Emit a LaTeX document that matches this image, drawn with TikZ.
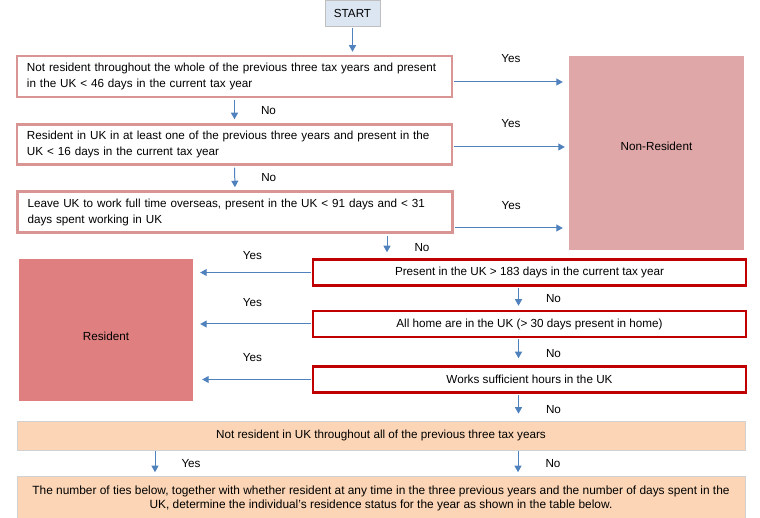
\documentclass[tikz,border=0pt]{standalone}
\usepackage{fontspec}
\setmainfont{Liberation Sans}
\usetikzlibrary{arrows.meta}
\definecolor{flowblue}{HTML}{4F81BD}
\definecolor{testpink}{HTML}{D99594}
\definecolor{testred}{HTML}{C00000}
\definecolor{nonresfill}{HTML}{DFA7A7}
\definecolor{resfill}{HTML}{DF7F7F}
\definecolor{peach}{HTML}{FBD5B5}
\definecolor{startfill}{HTML}{DCE6F2}
\begin{document}
\begin{tikzpicture}[x=1pt, y=-1pt,
  font=\fontsize{11.7}{16}\selectfont,
  every node/.style={inner sep=0pt},
  flow/.style={draw=flowblue, line width=1pt, -{Triangle[length=6.5pt,width=7pt]}},
  pinkbox/.style={draw=testpink, line width=2.5pt, fill=white, minimum width=435pt,
    minimum height=41pt, text width=415pt, align=left},
  redbox/.style={draw=testred, line width=2.5pt, fill=white, minimum width=433pt, minimum height=26pt},
  peachbox/.style={draw=black!18, line width=0.6pt, fill=peach, minimum width=728pt},
  verdict/.style={minimum width=175pt}]
\useasboundingbox (0,0) rectangle (760,518);
\node[draw=black!25, fill=startfill, minimum width=55pt, minimum height=26pt] (start) at (352.5,13) {START};
\node[pinkbox] (nonres1) at (234.5,76.5) {Not resident throughout the whole of the previous three tax years and present\\in the UK < 46 days in the current tax year};
\node[pinkbox, minimum height=40pt] (nonres2) at (234.5,144.5) {Resident in UK in at least one of the previous three years and present in the\\UK < 16 days in the current tax year};
\node[pinkbox] (nonres3) at (235,212) {Leave UK to work full time overseas, present in the UK < 91 days and < 31\\days spent working in UK};
\node[verdict, fill=nonresfill, minimum height=194pt, label={[yshift=7pt]center:Non-Resident}] (nonres) at (656.5,153) {};
\node[redbox] (res1) at (529.5,272.5) {Present in the UK > 183 days in the current tax year};
\node[redbox] (res2) at (529.5,324) {All home are in the UK (> 30 days present in home)};
\node[redbox] (res3) at (529.5,379.5) {Works sufficient hours in the UK};
\node[verdict, fill=resfill, minimum width=174pt, minimum height=142pt, label={[yshift=-6pt]center:Resident}] (res) at (106,330) {};
\node[peachbox, minimum height=29pt] (prior) at (381,435.5) {Not resident in UK throughout all of the previous three tax years};
\node[peachbox, minimum height=44pt, align=center, font=\fontsize{11.9}{14}\selectfont] (ties) at (381,498.5) {The number of ties below, together with whether resident at any time in the three previous years and the number of days spent in the\\UK, determine the individual's residence status for the year as shown in the table below.};

\draw[flow, shorten <=2pt, shorten >=3pt] (start.south) -- (start.south |- nonres1.north);
\draw[flow, shorten <=2pt, shorten >=4pt] (nonres1.south) -- (nonres2.north) node[midway, right=26pt] (no1) {No};
\draw[flow, shorten <=2pt, shorten >=3pt] (nonres2.south) -- (nonres3.north) node[midway, right=26pt] (no2) {No};
\draw[flow, shorten <=2pt, shorten >=6pt] ([xshift=152pt]nonres3.south) -- ([xshift=152pt]nonres3.south |- res1.north) node[midway, right=27pt, yshift=-2pt] (no3) {No};
\draw[flow, shorten <=1pt, shorten >=4pt] ([xshift=-11pt]res1.south) -- ([xshift=-11pt]res2.north) node[midway, right=27pt] (no4) {No};
\draw[flow, shorten <=1pt, shorten >=7pt] ([xshift=-11pt]res2.south) -- ([xshift=-11pt]res3.north) node[midway, right=27pt, yshift=-2pt] (no5) {No};
\draw[flow, shorten <=1pt, shorten >=7pt] ([xshift=-11pt]res3.south) -- ([xshift=-11pt]res3.south |- prior.north) node[midway, right=27pt, yshift=-2pt] (no6) {No};
\draw[flow, shorten <=1pt, shorten >=4pt] ([xshift=-226pt]prior.south) -- ([xshift=-226pt]prior.south |- ties.north) node[midway, right=26pt] (yes7) {Yes};
\draw[flow, shorten <=1pt, shorten >=4pt] ([xshift=137pt]prior.south) -- ([xshift=137pt]prior.south |- ties.north) node[midway, right=27pt] (no7) {No};

\draw[flow, shorten <=1pt, shorten >=6pt] ([yshift=-5.5pt]nonres1.east) -- ([yshift=-5.5pt]nonres1.east -| nonres.west) node[midway, above=19pt] (yes1) {Yes};
\draw[flow, shorten <=1pt, shorten >=4pt] ([yshift=-2.5pt]nonres2.east) -- ([yshift=-2.5pt]nonres2.east -| nonres.west) node[midway, above=19pt] (yes2) {Yes};
\draw[flow, shorten <=1pt, shorten >=6pt] ([yshift=-16pt]nonres3.east) -- ([yshift=-16pt]nonres3.east -| nonres.west) node[midway, above=18pt] (yes3) {Yes};
\draw[flow, shorten <=1pt, shorten >=7pt] (res1.west) -- (res1.west -| res.east) node[midway, above=12pt] (yes4) {Yes};
\draw[flow, shorten <=1pt, shorten >=7pt] (res2.west) -- (res2.west -| res.east) node[midway, above=17pt] (yes5) {Yes};
\draw[flow, shorten <=1pt, shorten >=9pt] (res3.west) -- (res3.west -| res.east) node[midway, above=17pt] (yes6) {Yes};
\end{tikzpicture}
\end{document}
